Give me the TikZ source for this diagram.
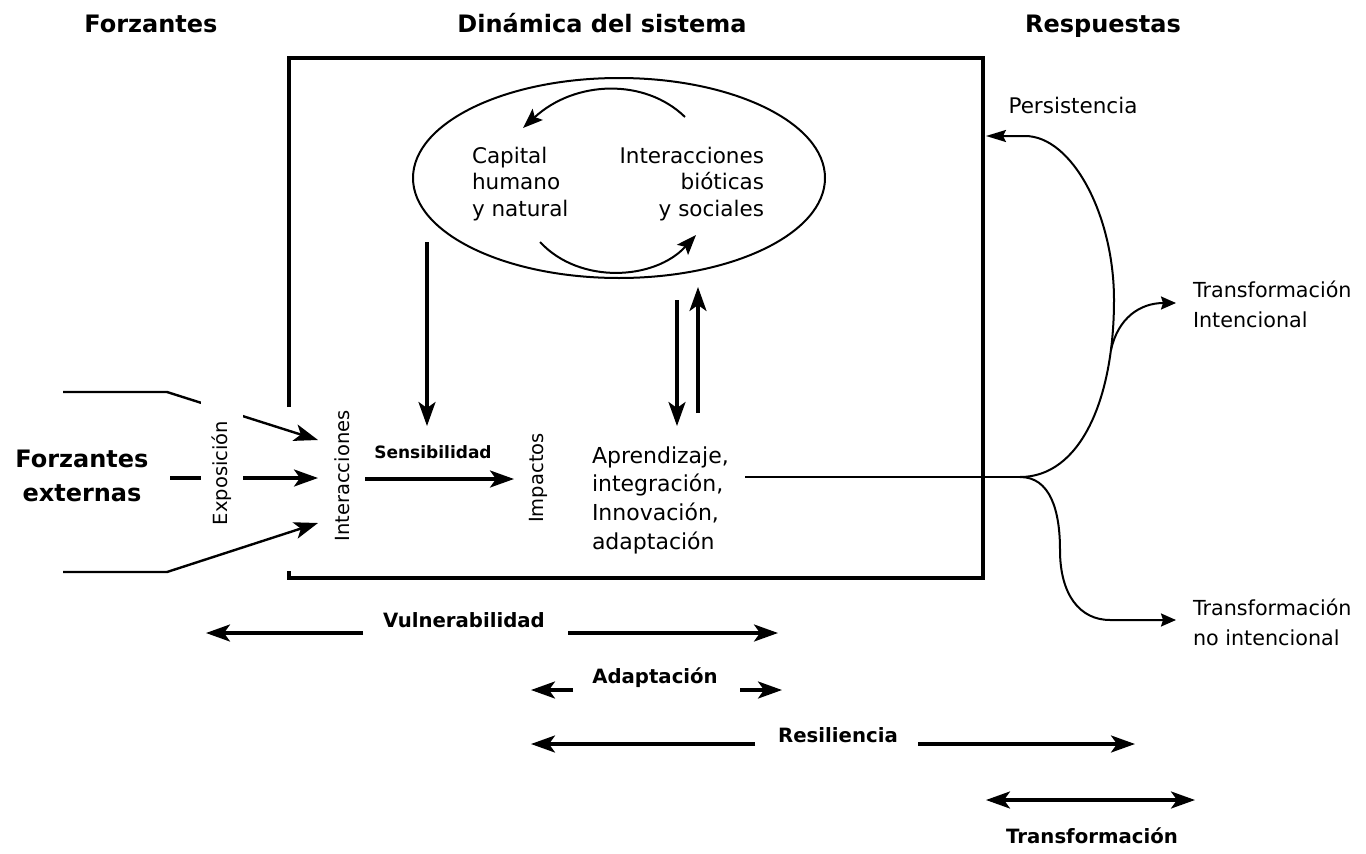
\documentclass[tikz,border=0pt]{standalone}
\usepackage{fontspec}
\setmainfont{DejaVu Sans}
\usetikzlibrary{arrows.meta,shapes.geometric}
\begin{document}
\begin{tikzpicture}[x=1pt,y=-1pt,
  every node/.style={inner sep=0pt, outer sep=0pt},
  head/.style={font=\fontsize{24}{34}\selectfont\bfseries},
  txt/.style={font=\fontsize{21.5}{26.5}\selectfont},
  rot/.style={font=\fontsize{19.5}{22}\selectfont, rotate=90},
  lab/.style={font=\fontsize{19.7}{22}\selectfont\bfseries},
  thk/.style={line width=3.2pt},
  med/.style={line width=2pt},
  lft/.style={line width=2.4pt},
  tipA/.style={-{Stealth[length=24pt,width=17pt,inset=6pt]}},
  tipB/.style={{Stealth[length=24pt,width=17pt,inset=6pt]}-{Stealth[length=24pt,width=17pt,inset=6pt]}},
  tipM/.style={-{Stealth[length=20pt,width=15pt,inset=4pt]}},
  tipP/.style={-{Stealth[length=20pt,width=12pt,inset=3pt]}},
  tipS/.style={-{Stealth[length=15pt,width=13pt,inset=2pt]}},
]
\useasboundingbox (0,0) rectangle (1366,854);

% headings
\node[head,anchor=base] (hF) at (151,32) {Forzantes};
\node[head,anchor=base] (hD) at (602,32) {Dinámica del sistema};
\node[head,anchor=base] (hR) at (1103,32) {Respuestas};

% frame
\coordinate (r1) at (289,407);
\coordinate (r2) at (289,58);
\coordinate (r3) at (983,58);
\coordinate (r4) at (983,578);
\coordinate (r5) at (289,578);
\coordinate (r6) at (289,571);
\draw[thk, line join=miter] (r1) -- (r2) -- (r3) -- (r4) -- (r5) -- (r6);

% cycle
\node[draw, med, ellipse, minimum width=412pt, minimum height=200pt] (cyc) at (619,178) {};
\node[txt, align=left] (cap) at (472,184) [anchor=west] {Capital\\humano\\y natural};
\node[txt, align=right] (bio) at (764,184) [anchor=east] {Interacciones\\bióticas\\y sociales};
\coordinate (c1) at (685,117);
\coordinate (c2) at (523,128);
\coordinate (c3) at (540,242);
\coordinate (c4) at (696,235);
\draw[med, tipM] (c1) .. controls (645,78) and (575,80) .. (c2);
\draw[med, tipM] (c3) .. controls (580,285) and (655,280) .. (c4);

% vertical arrows
\coordinate (v1) at (427,242);
\coordinate (v2) at (427,426);
\draw[thk, tipA] (v1) -- (v2);
\coordinate (d1) at (677,300);
\coordinate (d2) at (677,426);
\draw[thk, tipA] (d1) -- (d2);
\coordinate (u1) at (698,413);
\coordinate (u2) at (698,287);
\draw[thk, tipA] (u1) -- (u2);

% left forcing lines
\coordinate (l1) at (63,392);
\coordinate (l2) at (167,392);
\coordinate (l3) at (318,440);
\coordinate (m1) at (170,478);
\coordinate (m2) at (318,478);
\coordinate (b1) at (63,572);
\coordinate (b2) at (167,572);
\coordinate (b3) at (318,523);
\draw[lft, tipA] (l1) -- (l2) -- (l3);
\draw[lft, tipA] (b1) -- (b2) -- (b3);
\draw[thk, tipA] (m1) -- (m2);
\node[rot, fill=white, minimum width=146pt, minimum height=42pt] (exp) at (222,473) {Exposición};
\node[head, align=center] (fe) at (82,476) {Forzantes\\externas};
\node[rot] (inter) at (342,476) {Interacciones};

% sensibilidad
\node[font=\fontsize{17}{20}\selectfont\bfseries] (sens) at (433,452) {Sensibilidad};
\coordinate (s1) at (365,479);
\coordinate (s2) at (514,479);
\draw[thk, tipA] (s1) -- (s2);
\node[rot] (imp) at (538,478) {Impactos};
\node[txt, align=left, font=\fontsize{22}{28.7}\selectfont] (apr) at (592,500) [anchor=west] {Aprendizaje,\\integración,\\Innovación,\\adaptación};

% responses
\coordinate (h1) at (745,477);
\coordinate (j) at (1020,477);
\coordinate (pk) at (1114,300);
\coordinate (pa) at (1025,136);
\coordinate (pt) at (986,136);
\draw[med] (h1) -- (j);
\draw[med, tipP] (j) .. controls (1080,477) and (1114,400) .. (pk)
   .. controls (1114,215) and (1072,136) .. (pa) -- (pt);
\coordinate (i1) at (1111,350);
\coordinate (i2) at (1176,303);
\draw[med, tipS] (i1) .. controls (1118,318) and (1140,303) .. (i2);
\coordinate (n1) at (1060,550);
\coordinate (n2) at (1110,620);
\coordinate (n3) at (1176,620);
\draw[med, tipS] (j) .. controls (1050,477) and (1060,510) .. (n1)
   .. controls (1060,595) and (1080,620) .. (n2) -- (n3);
\node[txt, anchor=base] (per) at (1073,113) {Persistencia};
\node[txt, align=left, font=\fontsize{20.7}{30}\selectfont] (ti) at (1193,304) [anchor=west] {Transformación\\Intencional};
\node[txt, align=left, font=\fontsize{20.7}{30}\selectfont] (tn) at (1193,622) [anchor=west] {Transformación\\no intencional};

% bottom scale arrows
\coordinate (va) at (363,633);
\coordinate (vb) at (206,633);
\coordinate (vc) at (568,633);
\coordinate (vd) at (778,633);
\draw[thk, tipA] (va) -- (vb);
\draw[thk, tipA] (vc) -- (vd);
\node[lab, anchor=base] (vul) at (464,627) {Vulnerabilidad};
\coordinate (aa) at (573,690);
\coordinate (ab) at (531,690);
\coordinate (ac) at (740,690);
\coordinate (ad) at (782,690);
\draw[thk, tipA] (aa) -- (ab);
\draw[thk, tipA] (ac) -- (ad);
\node[lab, anchor=base] (ada) at (655,683) {Adaptación};
\coordinate (ra) at (755,744);
\coordinate (rb) at (531,744);
\coordinate (rc) at (918,744);
\coordinate (rd) at (1135,744);
\draw[thk, tipA] (ra) -- (rb);
\draw[thk, tipA] (rc) -- (rd);
\node[lab, anchor=base] (res) at (838,742) {Resiliencia};
\coordinate (ta) at (986,800);
\coordinate (tb) at (1195,800);
\draw[thk, tipB] (ta) -- (tb);
\node[lab, anchor=base] (tra) at (1092,843) {Transformación};
\end{tikzpicture}
\end{document}
